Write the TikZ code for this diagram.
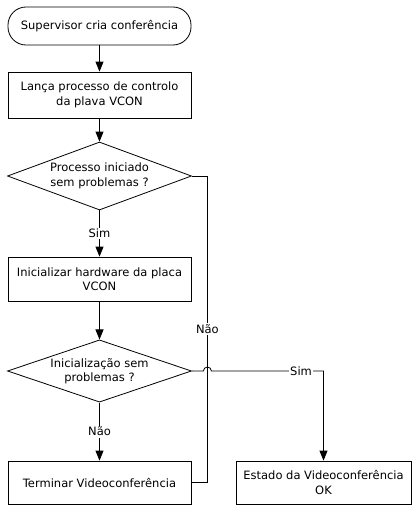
\documentclass[tikz,border=0pt]{standalone}
\usepackage{fontspec}
\setmainfont{DejaVu Sans}
\usepackage{tikz}
\usetikzlibrary{arrows.meta,shapes.geometric,positioning}
\tikzset{
    terminal/.style={
           rectangle,
           rounded corners=18pt,
           draw=black,
           line width=0.8pt,
           minimum width=183pt,
           minimum height=38pt,
           align=center,
           },
    process/.style={
           rectangle,
           draw=black,
           line width=0.8pt,
           minimum width=183pt,
           inner sep=2pt,
           align=center,
           },
    decision/.style={
           diamond,
           draw=black,
           line width=0.8pt,
           aspect=2.7,
           inner sep=0pt,
           minimum width=184pt,
           align=center,
           },
    edgelabel/.style={
           fill=white,
           inner sep=1.5pt,
           },
}

\begin{document}
\begin{tikzpicture}[->,>={Triangle[length=10pt,width=8pt]},line width=0.8pt,
    every node/.style={font=\fontsize{11.5}{14.5}\selectfont}]
\useasboundingbox (0pt,0pt) rectangle (413pt,-506pt);
\node[terminal](supervisor) at (99.5pt,-26pt){Supervisor cria conferência};
\node[process,below of=supervisor,node distance=69pt,minimum height=46pt](lanca){Lança processo de controlo\\da plava VCON};
\node[decision,below of=lanca,node distance=81pt,minimum height=68pt](iniciado){Processo iniciado\\sem problemas ?};
\node[process,below of=iniciado,node distance=103pt,minimum height=44pt](hardware){Inicializar hardware da placa\\VCON};
\node[decision,below of=hardware,node distance=92pt,minimum height=60pt](inicializacao){Inicialização sem\\problemas ?};
\node[process,below of=inicializacao,node distance=111.5pt,minimum height=43pt](terminar){Terminar Videoconferência};
\node[process,right of=terminar,node distance=224pt,minimum width=175pt,minimum height=43pt](estado){Estado da Videoconferência\\OK};
\coordinate[right=15.5pt of iniciado.east](naocanto);
\coordinate(salto) at (naocanto |- inicializacao.east);
\coordinate(simcanto) at (inicializacao.east -| estado.north);
\path (supervisor) edge (lanca)
      (lanca) edge (iniciado)
      (iniciado) edge node[edgelabel]{Sim} (hardware)
      (hardware) edge (inicializacao)
      (inicializacao) edge node[edgelabel]{Não} (terminar);
\draw[-] (iniciado.east) -- (naocanto) -- node[edgelabel]{Não} (naocanto |- terminar.east) -- (terminar.east);
\draw (inicializacao.east) -- ([xshift=-4pt]salto) arc[start angle=180,end angle=0,radius=4pt]
      -- node[edgelabel,pos=0.8]{Sim} (simcanto) -- (estado.north);
\end{tikzpicture}
\end{document}
